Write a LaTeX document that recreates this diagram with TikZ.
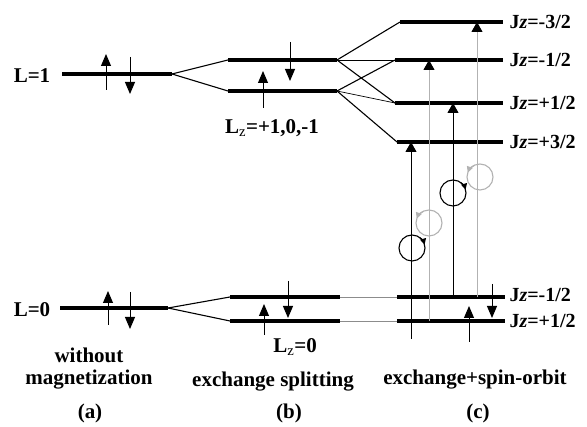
\documentclass[tikz,border=0pt]{standalone}
\usepackage{fontspec}
\setmainfont{Liberation Serif}
\usetikzlibrary{arrows.meta,calc}

\begin{document}
\begin{tikzpicture}[x=1pt,y=1pt,
    level/.style={line width=4pt},
    link/.style={line width=1.1pt},
    thinlink/.style={line width=0.7pt},
    spin/.style={line width=1pt,-{Triangle[length=12pt,width=10pt]}},
    trans/.style={line width=1pt,-{Triangle[length=10pt,width=11pt,color=black]}},
    faint/.style={black!30},
    pol/.style={circle,draw,line width=1.1pt,minimum size=26pt,inner sep=0pt},
    polarrow/.style={line width=1.1pt,-{Triangle[length=6pt,width=6pt]}},
    lab/.style={font=\fontsize{21}{23}\selectfont\bfseries},
    jz/.style={font=\fontsize{20}{22}\selectfont\bfseries,anchor=west}
  ]
    \useasboundingbox (0,0) rectangle (587,427);

    % level end points
    \coordinate (a1l) at (62,353);   \coordinate (a1r) at (172,353);
    \coordinate (a0l) at (60,119);   \coordinate (a0r) at (168,119);
    \coordinate (btl) at (228,367);  \coordinate (btr) at (337,367);
    \coordinate (bbl) at (228,336);  \coordinate (bbr) at (337,336);
    \coordinate (bul) at (230,130);  \coordinate (bur) at (340,130);
    \coordinate (bdl) at (230,106);  \coordinate (bdr) at (340,106);
    \coordinate (c1l) at (400,405);  \coordinate (c1r) at (503,405);
    \coordinate (c2l) at (395,367);  \coordinate (c2r) at (503,367);
    \coordinate (c3l) at (395,324);  \coordinate (c3r) at (503,324);
    \coordinate (c4l) at (397,285);  \coordinate (c4r) at (503,285);
    \coordinate (c5l) at (397,130);  \coordinate (c5r) at (505,130);
    \coordinate (c6l) at (397,106);  \coordinate (c6r) at (505,106);

    \foreach \p in {a1,a0,bt,bb,bu,bd,c1,c2,c3,c4,c5,c6}
      \draw[level] (\p l) -- (\p r);

    % splitting
    \draw[link] (a1r) -- (btl);
    \draw[link] (a1r) -- (bbl);
    \draw[link] (a0r) -- (bul);
    \draw[link] (a0r) -- (bdl);
    \draw[link] (btr) -- (c1l);
    \draw[thinlink] (btr) -- (c2l);
    \draw[link] (btr) -- (c3l);
    \draw[link] (bbr) -- (c2l);
    \draw[thinlink] (bbr) -- (c3l);
    \draw[link] (bbr) -- (c4l);
    \draw[thinlink,black!45] (bur) -- (c5l);
    \draw[thinlink,black!45] (bdr) -- (c6l);

    % spins
    \draw[spin] (106,337) -- (106,373);
    \draw[spin] (130,370) -- (130,333);
    \draw[spin] (108,102) -- (108,136);
    \draw[spin] (130,135) -- (130,98);
    \draw[spin] (290,385) -- (290,346);
    \draw[spin] (263,319) -- (263,356);
    \draw[spin] (264,92) -- (264,123);
    \draw[spin] (288,146) -- (288,109);
    \draw[spin] (492,143) -- (492,109);
    \draw[spin] (469,85) -- (469,121);

    % transitions
    \draw[trans] (411,88) -- (411,285);
    \draw[trans,faint] (429,106) -- (429,367);
    \draw[trans] (453,130) -- (453,324);
    \draw[trans,faint] (477,130) -- (477,405);

    % polarization
    \node[pol] (p1) at (412,179) {};
    \node[pol,faint] (p1g) at (429,204) {};
    \node[pol] (p2) at (453,234) {};
    \node[pol,faint] (p2g) at (480,250) {};
    \draw[polarrow] ($(p1.center)+(55:13)$) arc[start angle=55,end angle=15,radius=13];
    \draw[polarrow] ($(p2.center)+(55:13)$) arc[start angle=55,end angle=15,radius=13];
    \draw[polarrow,faint] ($(p1g.center)+(115:13)$) arc[start angle=115,end angle=160,radius=13];
    \draw[polarrow,faint] ($(p2g.center)+(115:13)$) arc[start angle=115,end angle=160,radius=13];

    % labels
    \node[lab] (l1) at (32,351) {L=1};
    \node[lab] (l0) at (32,117) {L=0};
    \node[lab] (lz1) at (272,299) {L$_{\mathrm{z}}$=+1,0,-1};
    \node[lab] (lz0) at (295,80) {L$_{\mathrm{z}}$=0};
    \node[jz] (j1) at (506,405) {J\textit{z}=-3/2};
    \node[jz] (j2) at (506,367) {J\textit{z}=-1/2};
    \node[jz] (j3) at (506,324) {J\textit{z}=+1/2};
    \node[jz] (j4) at (506,285) {J\textit{z}=+3/2};
    \node[jz] (j5) at (506,132) {J\textit{z}=-1/2};
    \node[jz] (j6) at (506,106) {J\textit{z}=+1/2};

    \node[lab] (ta1) at (89,72) {without};
    \node[lab] (ta2) at (89,47) {magnetization};
    \node[lab] (ta) at (90,14) {(a)};
    \node[lab] (tb1) at (273,45) {exchange splitting};
    \node[lab] (tb) at (289,14) {(b)};
    \node[lab] (tc1) at (475,47) {exchange+spin-orbit};
    \node[lab] (tc) at (478,14) {(c)};
  \end{tikzpicture}
\end{document}
